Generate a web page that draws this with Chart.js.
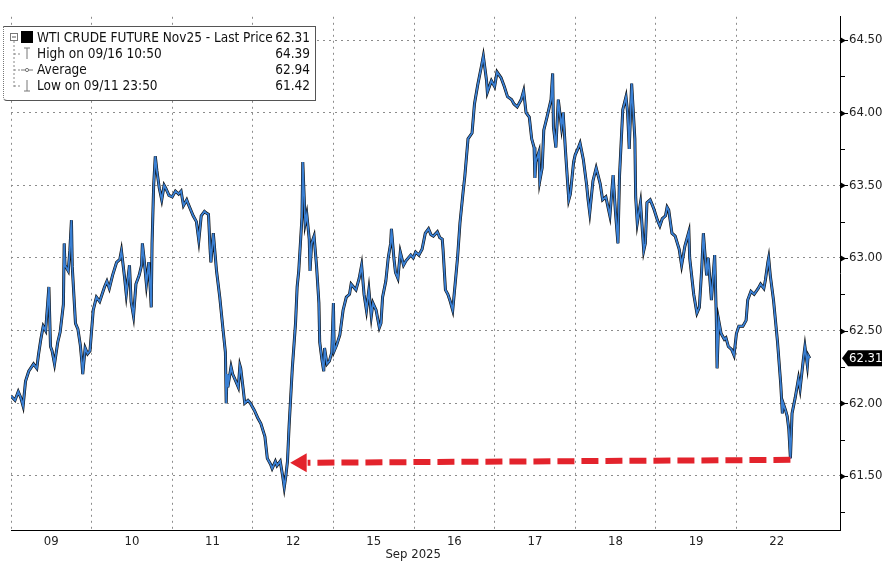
<!DOCTYPE html>
<html>
<head>
<meta charset="utf-8">
<script src="https://cdn.jsdelivr.net/npm/chart.js@4.4.1/dist/chart.umd.min.js"></script>
<style>
  html, body { margin: 0; padding: 0; background: #fff; }
  #wrap { position: relative; width: 885px; height: 563px; }
  #legend {
    position: absolute; left: 3px; top: 26px; width: 313px; height: 75px;
    background: #fff; border: 1px solid #555; border-left: 1px dotted #777;
    border-radius: 0 0 0 4px; box-sizing: border-box;
    font-family: 'DejaVu Sans Condensed', 'DejaVu Sans', sans-serif; font-size: 13.5px; color: #111;
  }
  #legend .row { position: absolute; left: 33px; right: 5px; height: 16px; line-height: 16px; white-space: nowrap; }
  #legend .row .v { position: absolute; right: 0; top: 0; }
  #legend svg { position: absolute; left: 0; top: 0; }
</style>
</head>
<body>
<div id="wrap">
  <canvas id="c" width="885" height="563"></canvas>
  <div id="legend">
    <svg width="33" height="72" viewBox="0 0 33 72">
      <rect x="6.5" y="6.5" width="7" height="7" fill="#fff" stroke="#777" stroke-width="1"/>
      <line x1="8" y1="10" x2="12" y2="10" stroke="#555" stroke-width="1"/>
      <rect x="17" y="4" width="12" height="12" fill="#000"/>
      <line x1="10" y1="14" x2="10" y2="60" stroke="#888" stroke-width="1" stroke-dasharray="2,2"/>
      <line x1="10" y1="27" x2="16" y2="27" stroke="#888" stroke-width="1" stroke-dasharray="2,2"/>
      <line x1="10" y1="43" x2="16" y2="43" stroke="#888" stroke-width="1" stroke-dasharray="2,2"/>
      <line x1="10" y1="59" x2="16" y2="59" stroke="#888" stroke-width="1" stroke-dasharray="2,2"/>
      <line x1="20" y1="21" x2="26" y2="21" stroke="#777" stroke-width="1"/>
      <line x1="23" y1="21" x2="23" y2="32" stroke="#777" stroke-width="1"/>
      <line x1="17" y1="43" x2="29" y2="43" stroke="#777" stroke-width="1"/>
      <circle cx="23" cy="43" r="1.6" fill="#fff" stroke="#777" stroke-width="1"/>
      <line x1="23" y1="53" x2="23" y2="64" stroke="#777" stroke-width="1"/>
      <line x1="20" y1="64" x2="26" y2="64" stroke="#777" stroke-width="1"/>
    </svg>
    <div class="row" style="top:2px"><span id="l0"></span><span class="v" id="v0"></span></div>
    <div class="row" style="top:18px"><span id="l1"></span><span class="v" id="v1"></span></div>
    <div class="row" style="top:34px"><span id="l2"></span><span class="v" id="v2"></span></div>
    <div class="row" style="top:50px"><span id="l3"></span><span class="v" id="v3"></span></div>
  </div>
</div>
<script>
// ---- data ----
const dayLabels = ['09', '10', '11', '12', '15', '16', '17', '18', '19', '22'];
const axisTitle = 'Sep 2025';
// time in trading days since start of 09 Sep session
const times = [
  0.00,0.05,0.09,0.12,0.15,0.18,0.22,0.28,0.32,0.34,0.37,0.40,0.43,0.47,0.49,0.51,0.54,0.58,0.61,0.65,
  0.66,0.67,0.71,0.73,0.75,0.76,0.80,0.83,0.86,0.88,0.89,0.92,0.95,0.98,1.02,1.06,1.10,1.13,1.16,1.19,
  1.22,1.26,1.31,1.35,1.37,1.41,1.43,1.47,1.49,1.52,1.55,1.59,1.62,1.63,1.65,1.68,1.71,1.74,1.75,1.77,
  1.79,1.81,1.84,1.87,1.90,1.92,1.96,2.00,2.04,2.08,2.11,2.14,2.18,2.20,2.26,2.30,2.33,2.36,2.40,2.42,
  2.45,2.47,2.48,2.51,2.55,2.59,2.63,2.66,2.67,2.68,2.69,2.73,2.75,2.79,2.82,2.84,2.85,2.88,2.90,2.94,
  2.97,3.02,3.06,3.10,3.15,3.18,3.22,3.24,3.28,3.30,3.34,3.37,3.39,3.41,3.43,3.45,3.49,3.53,3.55,3.57,
  3.61,3.62,3.65,3.67,3.70,3.71,3.73,3.76,3.79,3.82,3.83,3.86,3.88,3.89,3.92,3.95,3.98,4.00,4.01,4.04,
  4.08,4.12,4.16,4.20,4.22,4.25,4.28,4.32,4.35,4.38,4.41,4.44,4.47,4.49,4.53,4.57,4.59,4.61,4.65,4.68,
  4.71,4.72,4.75,4.77,4.80,4.83,4.87,4.90,4.96,4.99,5.02,5.06,5.10,5.14,5.18,5.21,5.24,5.29,5.32,5.35,
  5.36,5.39,5.42,5.45,5.48,5.51,5.54,5.57,5.61,5.63,5.67,5.72,5.75,5.79,5.84,5.86,5.90,5.91,5.96,6.00,
  6.03,6.08,6.12,6.16,6.21,6.24,6.28,6.33,6.36,6.39,6.43,6.46,6.49,6.50,6.51,6.55,6.56,6.59,6.61,6.65,
  6.70,6.72,6.73,6.76,6.79,6.83,6.85,6.88,6.92,6.94,6.98,7.00,7.04,7.06,7.10,7.14,7.16,7.18,7.22,7.26,
  7.31,7.34,7.38,7.43,7.47,7.50,7.53,7.55,7.59,7.63,7.65,7.67,7.70,7.74,7.75,7.77,7.81,7.85,7.87,7.89,
  7.93,7.96,7.98,8.02,8.05,8.08,8.12,8.14,8.16,8.20,8.24,8.29,8.32,8.36,8.41,8.42,8.47,8.51,8.54,8.57,
  8.59,8.63,8.65,8.69,8.73,8.75,8.76,8.78,8.81,8.85,8.87,8.90,8.94,8.97,9.00,9.03,9.08,9.12,9.14,9.18,
  9.22,9.27,9.30,9.34,9.36,9.39,9.40,9.42,9.46,9.51,9.55,9.57,9.58,9.61,9.63,9.65,9.67,9.69,9.73,9.77,
  9.79,9.83,9.85,9.88,9.89,9.91
];
const prices = [
  62.05,62.02,62.08,62.04,61.98,62.15,62.22,62.27,62.24,62.33,62.44,62.53,62.50,62.80,62.39,62.36,62.27,62.42,62.49,62.68,
  63.10,62.95,62.91,63.05,63.26,62.94,62.55,62.51,62.40,62.28,62.20,62.38,62.34,62.36,62.64,62.73,62.70,62.75,62.80,62.84,
  62.79,62.88,62.97,62.99,63.05,62.86,62.75,62.95,62.70,62.60,62.82,62.88,62.95,63.10,63.00,62.82,62.97,62.66,63.10,63.50,
  63.70,63.60,63.48,63.40,63.50,63.48,63.43,63.42,63.46,63.44,63.46,63.36,63.40,63.37,63.29,63.25,63.12,63.29,63.32,63.31,
  63.30,63.06,62.97,63.17,62.91,62.73,62.51,62.35,62.00,62.20,62.11,62.25,62.20,62.15,62.11,62.26,62.24,62.10,62.00,62.02,
  62.00,61.95,61.90,61.86,61.77,61.62,61.58,61.55,61.60,61.57,61.60,61.50,61.42,61.50,61.60,61.84,62.24,62.55,62.80,62.91,
  63.28,63.66,63.24,63.30,63.13,62.91,63.10,63.15,62.95,62.69,62.42,62.29,62.22,62.38,62.27,62.29,62.35,62.69,62.36,62.40,
  62.47,62.64,62.73,62.75,62.82,62.80,62.78,62.86,62.95,62.75,62.64,62.78,62.60,62.69,62.64,62.52,62.55,62.73,62.84,63.00,
  63.10,63.20,63.00,62.90,62.86,63.04,62.95,62.98,63.02,63.00,63.04,63.02,63.06,63.17,63.20,63.16,63.15,63.18,63.14,63.13,
  63.06,62.78,62.75,62.70,62.64,62.82,63.00,63.24,63.46,63.56,63.82,63.86,64.06,64.19,64.33,64.39,64.22,64.14,64.22,64.18,
  64.28,64.24,64.18,64.11,64.09,64.06,64.04,64.09,64.15,64.00,63.97,63.82,63.76,63.55,63.66,63.73,63.53,63.62,63.88,63.97,
  64.09,64.27,63.90,63.76,64.09,63.90,64.00,63.73,63.40,63.44,63.66,63.71,63.76,63.79,63.68,63.51,63.40,63.31,63.53,63.62,
  63.51,63.40,63.42,63.29,63.57,63.31,63.10,63.57,64.02,64.11,64.00,63.75,64.20,63.82,63.42,63.24,63.38,63.05,63.10,63.38,
  63.40,63.36,63.33,63.26,63.22,63.27,63.29,63.35,63.33,63.17,63.15,63.06,62.95,63.08,63.18,63.00,62.75,62.62,62.66,62.93,
  63.17,62.88,63.00,62.71,63.02,62.60,62.24,62.57,62.48,62.44,62.45,62.39,62.37,62.33,62.48,62.53,62.53,62.57,62.71,62.77,
  62.75,62.79,62.82,62.79,62.85,62.97,63.00,62.88,62.71,62.42,62.13,61.93,62.00,61.95,61.91,61.82,61.62,61.93,62.04,62.17,
  62.10,62.30,62.39,62.26,62.33,62.31
];
const yMajorTicks = [61.5, 62.0, 62.5, 63.0, 63.5, 64.0, 64.5];
const yMinorTicks = [61.25, 61.75, 62.25, 62.75, 63.25, 63.75, 64.25];
const legendLabels = ['WTI CRUDE FUTURE Nov25 - Last Price', 'High on 09/16 10:50', 'Average', 'Low on 09/11 23:50'];
const legendValues = [62.31, 64.39, 62.94, 61.42];
const lastPrice = 62.31;
// red arrow: from the latest low back to the 11 Sep low
const arrowLevel = [61.61, 61.59];
const arrowTimes = [9.67, 3.68];
const arrowHeadTime = 3.60;
const arrowHeadLevel = 61.59;

// ---- legend text ----
legendLabels.forEach((t, i) => {
  document.getElementById('l' + i).textContent = t;
  document.getElementById('v' + i).textContent = legendValues[i].toFixed(2);
});

const FONT = "'DejaVu Sans Condensed', 'DejaVu Sans', sans-serif";
const priceData = times.map((t, i) => ({ x: t, y: prices[i] }));

const overlay = {
  id: 'overlay',
  afterDraw(chart) {
    const ctx = chart.ctx;
    const ys = chart.scales.y, xs = chart.scales.x;
    const ax = chart.chartArea.right;
    ctx.save();
    ctx.fillStyle = '#000'; ctx.strokeStyle = '#000'; ctx.lineWidth = 1;
    yMajorTicks.forEach(v => {
      const py = Math.round(ys.getPixelForValue(v)) + 0.5;
      ctx.beginPath();
      ctx.moveTo(ax, py - 3.5); ctx.lineTo(ax + 6, py); ctx.lineTo(ax, py + 3.5); ctx.closePath(); ctx.fill();
      ctx.beginPath(); ctx.moveTo(ax, py); ctx.lineTo(ax + 8, py); ctx.stroke();
    });
    yMinorTicks.forEach(v => {
      const py = Math.round(ys.getPixelForValue(v)) + 0.5;
      ctx.beginPath(); ctx.moveTo(ax, py); ctx.lineTo(ax + 5, py); ctx.stroke();
    });
    const ly = ys.getPixelForValue(lastPrice);
    const x0 = ax + 2, x1 = ax + 8, x2 = 882, h = 8;
    ctx.fillStyle = '#000';
    ctx.beginPath();
    ctx.moveTo(x0, ly); ctx.lineTo(x1, ly - h); ctx.lineTo(x2, ly - h); ctx.lineTo(x2, ly + h); ctx.lineTo(x1, ly + h); ctx.closePath(); ctx.fill();
    ctx.fillStyle = '#fff';
    ctx.font = '13px ' + FONT;
    ctx.textAlign = 'left'; ctx.textBaseline = 'middle';
    ctx.fillText(lastPrice.toFixed(2), ax + 9, ly + 0.5);
    ctx.fillStyle = '#222';
    ctx.textAlign = 'center';
    ctx.fillText(axisTitle, xs.getPixelForValue(4.99), 555);
    ctx.restore();
  }
};

new Chart(document.getElementById('c'), {
  data: {
    datasets: [
      { type: 'line', data: [{ x: arrowTimes[0], y: arrowLevel[0] }, { x: arrowTimes[1], y: arrowLevel[1] }],
        borderColor: '#e3232c', borderWidth: 6, borderDash: [17, 7], pointRadius: 0, order: 0 },
      { type: 'line', data: [{ x: arrowHeadTime, y: arrowHeadLevel }], showLine: false,
        pointStyle: 'triangle', rotation: -90, pointRadius: 11, pointBackgroundColor: '#e3232c',
        pointBorderWidth: 0, borderColor: '#e3232c', order: 0 },
      { type: 'line', data: priceData, borderColor: '#3a80d4', borderWidth: 1.8, pointRadius: 0, tension: 0, order: 1 },
      { type: 'line', data: priceData, borderColor: '#0d0d0d', borderWidth: 3.0, pointRadius: 0, tension: 0, order: 2 }
    ]
  },
  options: {
    responsive: false, animation: false, events: [],
    layout: { padding: 0 },
    plugins: { legend: { display: false }, tooltip: { enabled: false } },
    scales: {
      x: {
        type: 'linear', min: 0, max: 10.285, position: 'bottom',
        afterBuildTicks(s) {
          const t = [];
          for (let i = 0; i < dayLabels.length; i++) { t.push({ value: i }); t.push({ value: i + 0.5 }); }
          s.ticks = t;
        },
        afterFit(s) { s.height = 33; },
        grid: {
          drawTicks: false,
          color: c => (c.tick && Number.isInteger(c.tick.value)) ? '#8c8c8c' : 'rgba(0,0,0,0)',
          lineWidth: 1
        },
        border: { display: true, color: '#000', width: 1, dash: [2, 4] },
        ticks: {
          autoSkip: false, maxRotation: 0, padding: 4, color: '#222',
          font: { family: FONT, size: 13 },
          callback: v => Number.isInteger(v) ? '' : dayLabels[Math.floor(v)]
        }
      },
      y: {
        type: 'linear', position: 'right', min: 61.127, max: 64.66,
        afterBuildTicks(s) { s.ticks = yMajorTicks.map(v => ({ value: v })); },
        afterFit(s) { s.width = 45; },
        grid: { drawTicks: false, color: '#8c8c8c', lineWidth: 1 },
        border: { display: true, color: '#000', width: 1, dash: [2, 4] },
        ticks: { padding: 9, color: '#222', font: { family: FONT, size: 13 }, callback: v => v.toFixed(2) }
      }
    }
  },
  plugins: [overlay]
});
</script>
</body>
</html>
